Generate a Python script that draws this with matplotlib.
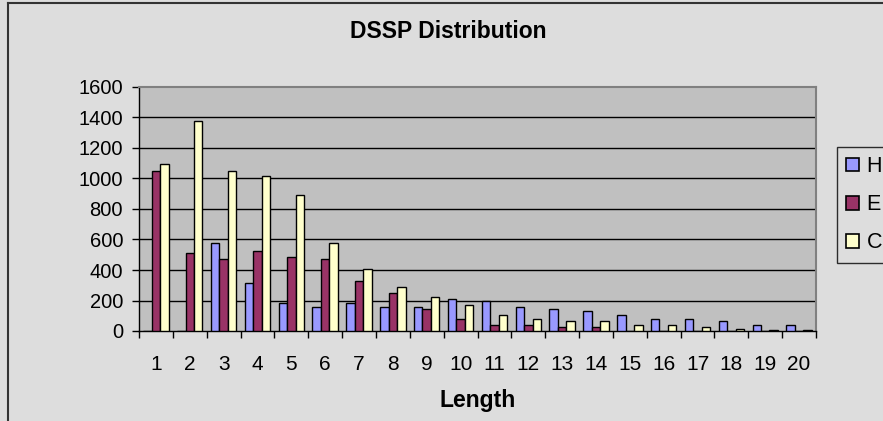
import matplotlib
matplotlib.use("Agg")
import matplotlib.pyplot as plt
import numpy as np
from matplotlib.patches import Patch
from matplotlib.lines import Line2D

plt.rcParams['font.family'] = ['Liberation Sans', 'DejaVu Sans']

categories = [str(i) for i in range(1, 21)]
H = [0, 0, 576, 314, 181, 157, 181, 157, 157, 213, 200, 160, 147, 133, 105, 77, 77, 63, 41, 41]
E = [1048, 513, 471, 524, 485, 471, 330, 249, 146, 78, 40, 40, 24, 24, 0, 0, 0, 0, 0, 0]
C = [1098, 1375, 1048, 1019, 891, 576, 406, 286, 220, 173, 107, 80, 67, 67, 39, 39, 28, 10, 8, 8]
series_names = ["H", "E", "C"]
colors = ["#9999FF", "#993366", "#FFFFCC"]
yticks = [0, 200, 400, 600, 800, 1000, 1200, 1400, 1600]

W, Hpx = 883, 421
fig = plt.figure(figsize=(W / 100, Hpx / 100), dpi=100, facecolor="#DDDDDD")
left, right, top, bottom = 139, 816, 87, 331
ax = fig.add_axes([left / W, 1 - bottom / Hpx, (right - left) / W, (bottom - top) / Hpx])
ax.set_facecolor("#C0C0C0")

x = np.arange(1, len(categories) + 1)
bw = 0.25
for i, (vals, name, col) in enumerate(zip([H, E, C], series_names, colors)):
    ax.bar(x + (i - 1) * bw, vals, width=bw, color=col, edgecolor="black",
           linewidth=1.0, label=name, zorder=3)

ax.set_xlim(0.5, len(categories) + 0.5)
ax.set_ylim(0, 1600)
ax.set_yticks(yticks)
ax.set_yticklabels([str(v) for v in yticks])
for v in yticks[1:-1]:
    ax.axhline(v, color="black", linewidth=1.0, zorder=1)

ax.set_xticks(np.arange(0.5, len(categories) + 1, 1.0))
ax.set_xticklabels([])
ax.set_xticks(x, minor=True)
ax.set_xticklabels(categories, minor=True)
ax.tick_params(axis="x", which="major", direction="out", length=5, width=1, color="black")
ax.tick_params(axis="x", which="minor", length=0, pad=17, labelsize=15)
ax.tick_params(axis="y", direction="out", length=5, width=1, color="black", labelsize=14.5, pad=6.5)

for s in ["left", "bottom"]:
    ax.spines[s].set_color("black")
    ax.spines[s].set_linewidth(1.0)
for s in ["top", "right"]:
    ax.spines[s].set_color("#808080")
    ax.spines[s].set_linewidth(1.5)

fig.text(448 / W, 1 - 37.7 / Hpx, "DSSP Distribution", ha="center", va="baseline",
         fontsize=16.5, fontweight="bold")
fig.text(478 / W, 1 - 407 / Hpx, "Length", ha="center", va="baseline",
         fontsize=16.5, fontweight="bold")

handles = [Patch(facecolor=c, edgecolor="black", linewidth=1.2, label=n)
           for c, n in zip(colors, series_names)]
leg = fig.legend(handles=handles, loc="upper left",
                 bbox_to_anchor=(837 / W, 1 - 147 / Hpx), frameon=True,
                 fontsize=15.5, handlelength=0.6, handleheight=0.6, handletextpad=0.35,
                 labelspacing=0.8, borderpad=0.42, borderaxespad=0, fancybox=False)
leg.get_frame().set_facecolor("#DDDDDD")
leg.get_frame().set_edgecolor("black")
leg.get_frame().set_linewidth(1.0)

fig.add_artist(Line2D([8 / W, 8 / W], [0, 1 - 3 / Hpx], color="#333333", linewidth=1.5,
                      transform=fig.transFigure))
fig.add_artist(Line2D([8 / W, 1], [1 - 3 / Hpx, 1 - 3 / Hpx], color="#333333", linewidth=1.5,
                      transform=fig.transFigure))

fig.savefig("out.png", dpi=100, facecolor=fig.get_facecolor())
